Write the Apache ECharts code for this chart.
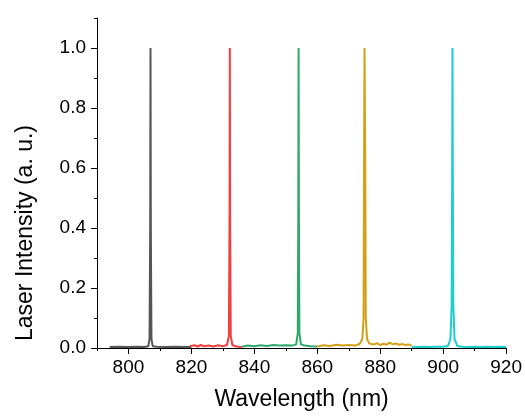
<!DOCTYPE html>
<html>
<head>
<meta charset="utf-8">
<script src="https://cdn.jsdelivr.net/npm/echarts@6/dist/echarts.min.js"></script>
<style>html,body{margin:0;padding:0;background:#fff}#c{width:525px;height:416px}</style>
</head>
<body>
<div id="c"></div>
<script>
// Tick values
const xMajorTicks = [800, 820, 840, 860, 880, 900, 920];
const xMinorTicks = [790, 810, 830, 850, 870, 890, 910];
const yMajorTicks = [0, 0.2, 0.4, 0.6, 0.8, 1.0];
const yMinorTicks = [0.1, 0.3, 0.5, 0.7, 0.9, 1.1];

// Series: [wavelength (nm), intensity (a.u.)]
const laser807 = [[794,0.003],[797,0.004],[800,0.003],[803,0.004],[805,0.003],[806.3,0.006],[806.7,0.03],[806.9,0.4],[807.0,1.0],[807.1,0.4],[807.3,0.03],[807.7,0.006],[809,0.004],[812,0.003],[815,0.004],[818,0.003],[820,0.003]];
const laser832 = [[819.5,0.006],[821,0.009],[822,0.005],[823,0.010],[824,0.006],[825.5,0.008],[827,0.005],[828.5,0.009],[830,0.006],[831.3,0.01],[831.9,0.04],[832.1,0.4],[832.2,1.0],[832.3,0.4],[832.5,0.04],[833,0.01],[834,0.006],[835,0.004],[836,0.003]];
const laser854 = [[836,0.004],[838,0.008],[840,0.006],[842,0.009],[844,0.007],[846,0.01],[848,0.008],[850,0.009],[852,0.008],[853.3,0.012],[853.8,0.05],[853.95,0.45],[854.05,1.0],[854.15,0.45],[854.3,0.05],[854.8,0.012],[856,0.008],[858,0.006],[860,0.005]];
const laser875 = [[860,0.005],[862,0.009],[864,0.007],[866,0.011],[868,0.008],[870,0.01],[872,0.008],[873.5,0.014],[874.3,0.03],[874.7,0.1],[874.85,0.6],[875.0,1.0],[875.1,1.0],[875.25,0.6],[875.4,0.1],[875.8,0.03],[876.5,0.015],[877,0.02],[878,0.012],[879,0.016],[880,0.01],[881,0.014],[882,0.011],[883,0.018],[884,0.012],[885,0.015],[886,0.011],[887,0.013],[888,0.01],[889,0.012],[890,0.008]];
const laser903 = [[890,0.004],[892,0.003],[894,0.004],[896,0.003],[898,0.004],[900,0.004],[901.5,0.007],[902.3,0.03],[902.7,0.15],[902.85,0.6],[902.95,1.0],[903.05,0.6],[903.2,0.15],[903.6,0.03],[904.5,0.007],[906,0.004],[908,0.003],[910,0.004],[912,0.003],[914,0.004],[916,0.003],[918,0.004],[920,0.003]];

const seriesData = [laser807, laser832, laser854, laser875, laser903];
const seriesColors = ['#555555', '#f0403f', '#2fa86a', '#d4a017', '#1ccfcf'];

const font = 'Liberation Sans, Arial, sans-serif';
const chart = echarts.init(document.getElementById('c'));
chart.setOption({
  animation: false,
  grid: {left: 97, right: 18, top: 18, bottom: 68},
  xAxis: [{
    type: 'value', min: 790, max: 920,
    name: 'Wavelength (nm)', nameLocation: 'middle', nameGap: 40,
    nameTextStyle: {fontFamily: font, fontSize: 23, color: '#000'},
    axisLine: {show: true, lineStyle: {color: '#000', width: 1}},
    axisTick: {show: true, customValues: xMajorTicks, length: 6, lineStyle: {color: '#000'}},
    axisLabel: {customValues: xMajorTicks, margin: 10, fontFamily: font, fontSize: 19, color: '#000'},
    splitLine: {show: false}
  }, {
    type: 'value', min: 790, max: 920, position: 'bottom',
    axisLine: {show: false},
    axisTick: {show: true, customValues: xMinorTicks, length: 3, lineStyle: {color: '#000'}},
    axisLabel: {show: false},
    splitLine: {show: false}
  }],
  yAxis: [{
    type: 'value', min: 0, max: 1.1,
    name: 'Laser Intensity (a. u.)', nameLocation: 'middle', nameGap: 60,
    nameTextStyle: {fontFamily: font, fontSize: 23, color: '#000', padding: [0, 100, 0, 0]},
    axisLine: {show: true, lineStyle: {color: '#000', width: 1}},
    axisTick: {show: true, customValues: yMajorTicks, length: 6, lineStyle: {color: '#000'}},
    axisLabel: {customValues: yMajorTicks, margin: 11, fontFamily: font, fontSize: 19, color: '#000',
      formatter: v => v.toFixed(1)},
    splitLine: {show: false}
  }, {
    type: 'value', min: 0, max: 1.1, position: 'left',
    axisLine: {show: false},
    axisTick: {show: true, customValues: yMinorTicks, length: 3, lineStyle: {color: '#000'}},
    axisLabel: {show: false},
    splitLine: {show: false}
  }],
  series: seriesData.map((d, i) => ({
    type: 'line', data: d, xAxisIndex: 0, yAxisIndex: 0,
    showSymbol: false, symbol: 'none',
    lineStyle: {color: seriesColors[i], width: 2},
    z: 2 + i
  }))
});
</script>
</body>
</html>
